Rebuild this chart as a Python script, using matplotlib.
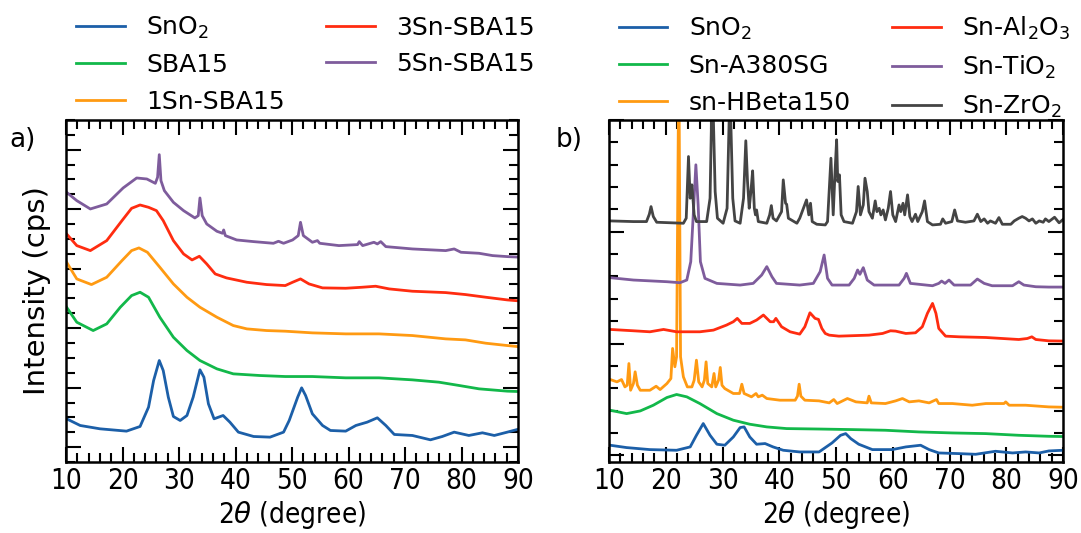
import matplotlib
matplotlib.use('Agg')
import matplotlib.pyplot as plt
from matplotlib.ticker import MultipleLocator

plt.rcParams['font.family'] = 'DejaVu Sans'
plt.rcParams['font.size'] = 17
plt.rcParams['mathtext.fontset'] = 'dejavusans'

# ---- panel a: Sn on SBA15 (2theta in degree, intensity offset in cps) ----
a_sno2_x = [10.1, 12.5, 16, 20.7, 23.1, 24.6, 25.5, 26.5, 27.2, 28.1, 29, 30.2, 31.4, 32.5,
            33.7, 34.4, 35.2, 36.2, 37.8, 39, 40.5, 43.2, 46.1, 48.5, 49.5, 51, 51.7, 52.4,
            53.6, 55.4, 56.8, 59.5, 61.3, 63.3, 65.1, 66.6, 68.1, 71.3, 74.5, 76.6, 78.7,
            81.3, 83.7, 85.8, 88.1, 90]
a_sno2_y = [476, 364, 308, 269, 347, 672, 1120, 1456, 1288, 840, 515, 448, 532, 840,
            1300, 1176, 728, 476, 532, 420, 252, 179, 168, 252, 448, 840, 997, 868,
            560, 364, 280, 269, 364, 420, 493, 364, 213, 196, 123, 179, 252,
            196, 241, 196, 252, 300]

a_sba_x = [10.1, 11.9, 14.8, 17.2, 19.6, 21.6, 23.1, 24.6, 26.6, 29, 31.4, 33.7, 36.7, 39.6,
           44.3, 48.8, 53.6, 59.5, 65.4, 71.3, 76, 79.6, 83.1, 88.1, 90]
a_sba_y = [2352, 2100, 1960, 2072, 2352, 2548, 2604, 2520, 2184, 1848, 1624, 1456, 1316, 1232,
           1204, 1187, 1187, 1165, 1165, 1131, 1092, 1036, 980, 941, 935]

a_1sn_x = [10.1, 11.9, 14.5, 17.2, 19.9, 21.6, 22.9, 24.4, 26.6, 29, 31.4, 33.7, 36.7, 39.6,
           42, 45.5, 48.8, 53.6, 59.5, 65.4, 71.3, 77.2, 80.7, 84.3, 88.1, 90]
a_1sn_y = [3108, 2828, 2733, 2856, 3136, 3304, 3349, 3276, 3024, 2744, 2520, 2352, 2184, 2044,
           1988, 1960, 1949, 1921, 1904, 1904, 1876, 1820, 1803, 1747, 1708, 1690]

a_3sn_x = [10.1, 11.9, 14.3, 17.2, 19.9, 21.6, 23.1, 24.6, 26, 27.2, 29, 30.8, 32.3, 33.6,
           34.9, 36.4, 38.4, 42, 45.5, 48.8, 50.1, 51.5, 53, 55.4, 59.5, 62.4, 64.8, 67.2,
           71.3, 77.2, 80.7, 84.3, 88.1, 90]
a_3sn_y = [3584, 3388, 3304, 3472, 3808, 4015, 4071, 4032, 3976, 3808, 3472, 3248, 3147, 3209,
           3080, 2912, 2845, 2772, 2733, 2716, 2772, 2828, 2744, 2677, 2671, 2688, 2705, 2660,
           2621, 2598, 2565, 2520, 2475, 2460]

a_5sn_x = [10.1, 11.9, 14.3, 17.2, 20.1, 22.5, 24.3, 25.8, 26.2, 26.5, 26.8, 27.4, 29, 30.8,
           32.8, 33.4, 33.7, 34.1, 34.9, 36.7, 37.7, 37.9, 38.2, 40.2, 43.2, 46.7, 47.6, 48.5,
           50.1, 51.1, 51.5, 52, 53.6, 54.5, 54.9, 58.3, 61.6, 61.9, 62.5, 64.5, 65.1, 65.7,
           66.6, 71.3, 77.2, 78.7, 79.9, 83.1, 85.5, 88.1, 90]
a_5sn_y = [4284, 4144, 4004, 4088, 4357, 4525, 4508, 4435, 4536, 4917, 4480, 4312, 4116, 3976,
           3853, 3892, 4189, 3892, 3752, 3629, 3595, 3651, 3556, 3483, 3455, 3427, 3461, 3427,
           3483, 3556, 3780, 3556, 3444, 3472, 3427, 3388, 3405, 3455, 3388, 3444, 3416, 3455,
           3371, 3332, 3304, 3332, 3276, 3259, 3220, 3203, 3195]

# ---- panel b: Sn on different supports ----
b_sno2_x = [10.2, 13.1, 17.2, 21.9, 24.3, 25.4, 26.6, 27.8, 29, 30.4, 31.9, 33.1, 33.8, 34.8,
            36, 37.5, 38.9, 40.7, 43.6, 47, 49.3, 50.8, 51.7, 52.6, 54, 56.4, 59.9, 62.3,
            64.9, 66.4, 68.1, 71.7, 74.6, 78.1, 81.1, 83.4, 85.8, 87.5, 90]
b_sno2_y = [90, 69, 51, 45, 75, 179, 284, 179, 99, 90, 164, 248, 254, 164,
            99, 105, 75, 45, 30, 30, 111, 179, 194, 149, 99, 51, 51, 75,
            90, 51, 21, 15, 9, 36, 21, 30, 21, 39, 45]

b_a380_x = [10.2, 13.1, 15.5, 17.8, 20.2, 21.9, 23.7, 26, 29, 31.9, 34.8, 37.8, 41.3, 47,
            52.9, 58.7, 64.6, 70.5, 76.4, 82.2, 87.5, 90]
b_a380_y = [403, 373, 397, 448, 517, 544, 523, 463, 373, 314, 278, 254, 239, 235,
            230, 224, 209, 200, 194, 179, 170, 168]

b_beta_x = [10.2, 11.4, 12.2, 12.8, 13.2, 13.5, 13.8, 14.3, 14.6, 15, 15.5, 17.2, 18.3, 19,
            20.2, 20.9, 21.2, 21.6, 21.9, 22.3, 22.6, 23.1, 23.8, 24.6, 25, 25.4, 25.8, 26.4,
            26.8, 27.1, 27.4, 28.1, 28.5, 28.8, 29.3, 29.6, 29.9, 30.4, 31.9, 33, 33.4, 33.8,
            35.1, 35.9, 36.3, 37, 37.8, 40.1, 42.8, 43.2, 43.5, 43.8, 44.5, 47, 48.8, 49.6,
            50.2, 52, 53.5, 55.5, 55.8, 56.2, 58.7, 60.5, 61.7, 62.9, 64.6, 66.4, 67.7, 68.1,
            70.5, 74, 76.4, 79.6, 79.9, 80.5, 83.4, 87.5, 90]
b_beta_y = [678, 657, 678, 612, 627, 821, 582, 642, 747, 627, 582, 582, 618, 588,
            642, 687, 956, 792, 881, 3600, 881, 702, 612, 612, 672, 851, 657, 612,
            672, 836, 642, 612, 732, 612, 672, 786, 627, 597, 553, 553, 636, 553,
            523, 553, 523, 538, 508, 493, 493, 529, 636, 529, 493, 487, 469, 499,
            463, 508, 478, 469, 529, 469, 463, 487, 508, 478, 487, 469, 499, 463,
            463, 448, 463, 463, 478, 448, 448, 433, 430]

b_al2o3_x = [10.2, 14.3, 17.2, 19.6, 21.9, 26, 28.4, 30.7, 31.9, 32.6, 33.4, 34.8, 36, 37.2,
             38.4, 39, 39.4, 40.4, 41.9, 43.6, 44.5, 45.4, 46.3, 46.9, 47.5, 48.1, 48.8,
             50.5, 55.8, 58.2, 59.6, 60.5, 62.3, 64, 65.2, 66.1, 67, 67.6, 68.1, 69.3, 71.7,
             76.4, 82.2, 83.7, 84.5, 85.2, 87.5, 90]
b_al2o3_y = [1126, 1114, 1105, 1126, 1105, 1105, 1120, 1165, 1195, 1225, 1180, 1180, 1210, 1255,
             1195, 1195, 1225, 1150, 1105, 1084, 1150, 1275, 1225, 1216, 1135, 1090, 1075,
             1066, 1075, 1090, 1114, 1111, 1090, 1096, 1150, 1270, 1359, 1270, 1135, 1066, 1060,
             1054, 1036, 1045, 1060, 1036, 1024, 1022]

b_tio2_x = [10.2, 14.3, 20.2, 22.5, 23.7, 24.4, 24.9, 25.3, 25.7, 26.1, 26.9, 29, 33.1, 35.4,
            36.9, 37.8, 38.7, 39.5, 43.6, 46, 47.2, 47.9, 48.5, 49.3, 52.3, 53.2, 53.8, 54.2,
            54.8, 55.5, 56.7, 61.1, 62, 62.4, 63.1, 67, 68.1, 68.6, 69.2, 69.9, 70.8, 73.7,
            74.9, 76.1, 77.5, 81.1, 82.2, 83.1, 85.2, 87.5, 90]
b_tio2_y = [1589, 1568, 1553, 1544, 1568, 1732, 2210, 2599, 2240, 1732, 1583, 1538, 1523, 1538,
            1613, 1688, 1598, 1538, 1523, 1538, 1643, 1792, 1583, 1523, 1523, 1583, 1658, 1619,
            1679, 1568, 1523, 1523, 1583, 1628, 1538, 1517, 1538, 1559, 1538, 1568, 1523, 1523,
            1577, 1538, 1517, 1517, 1553, 1523, 1508, 1505, 1505]

b_zro2_x = [10.2, 14.3, 16.6, 17.1, 17.4, 17.8, 18.4, 23.1, 23.6, 24, 24.3, 24.6, 25, 25.4,
            27.2, 27.8, 28.2, 28.7, 29.1, 30.1, 30.8, 31.3, 31.8, 32.2, 33.1, 33.7, 34.1, 34.4,
            34.7, 35, 35.3, 35.6, 35.8, 36, 36.3, 37.8, 38.3, 38.6, 38.9, 39.5, 40.4, 40.7,
            41.1, 41.3, 41.6, 43.1, 43.6, 44.8, 45.2, 45.5, 45.8, 46.6, 48.1, 48.5, 49.1,
            49.5, 49.8, 50.1, 50.3, 50.6, 50.9, 51.4, 52.9, 53.6, 53.9, 54.3, 54.8, 55.1,
            55.5, 55.8, 56.4, 56.9, 57.2, 57.6, 57.9, 58.3, 58.7, 59.2, 59.6, 60, 60.5, 61.1,
            61.4, 61.8, 62.1, 62.6, 63, 63.4, 64, 64.4, 65.2, 65.6, 66.1, 67, 68.4, 68.8,
            69.3, 70.4, 70.9, 71.4, 72.8, 74.3, 74.9, 75.5, 76.1, 76.7, 77.2, 78.1, 78.7,
            79.3, 80.8, 81.4, 82.2, 82.8, 83.4, 84, 84.6, 85.2, 85.8, 86.5, 86.9, 87.5, 88.5,
            89.3, 90]
b_zro2_y = [2097, 2091, 2091, 2157, 2225, 2136, 2085, 2076, 2121, 2673, 2300, 2420, 2151, 2091,
            2091, 2300, 3400, 2360, 2121, 2076, 2210, 3300, 2300, 2097, 2076, 2300, 2814, 2450,
            2210, 2360, 2545, 2210, 2151, 2195, 2091, 2076, 2151, 2234, 2121, 2097, 2180, 2464,
            2255, 2246, 2121, 2076, 2121, 2285, 2151, 2255, 2091, 2067, 2061, 2091, 2658,
            2151, 2509, 2823, 2450, 2509, 2151, 2091, 2076, 2180, 2405, 2151, 2240, 2479,
            2360, 2180, 2121, 2276, 2180, 2210, 2151, 2195, 2106, 2210, 2360, 2151, 2091, 2240,
            2180, 2255, 2151, 2330, 2136, 2091, 2157, 2091, 2180, 2276, 2091, 2061, 2067, 2115,
            2076, 2091, 2195, 2097, 2085, 2097, 2157, 2091, 2115, 2076, 2097, 2076, 2127,
            2067, 2067, 2097, 2121, 2136, 2121, 2097, 2115, 2076, 2097, 2085, 2115, 2091, 2130,
            2080, 2110]

c_blue = '#1c5fa8'
c_green = '#12b84a'
c_orange = '#ff9a12'
c_red = '#ff2c10'
c_purple = '#7e5c9c'
c_gray = '#444444'

fig = plt.figure(figsize=(10.81, 5.33), dpi=100)
ax_a = fig.add_axes([0.0611, 0.1332, 0.4181, 0.6417])
ax_b = fig.add_axes([0.5634, 0.1332, 0.4200, 0.6417])

lw = 2.0
la = []
la += ax_a.plot(a_sno2_x, a_sno2_y, color=c_blue, lw=lw, label='SnO$_2$')
la += ax_a.plot(a_sba_x, a_sba_y, color=c_green, lw=lw, label='SBA15')
la += ax_a.plot(a_1sn_x, a_1sn_y, color=c_orange, lw=lw, label='1Sn-SBA15')
la += ax_a.plot(a_3sn_x, a_3sn_y, color=c_red, lw=lw, label='3Sn-SBA15')
la += ax_a.plot(a_5sn_x, a_5sn_y, color=c_purple, lw=lw, label='5Sn-SBA15')

lb = []
lb += ax_b.plot(b_sno2_x, b_sno2_y, color=c_blue, lw=lw, label='SnO$_2$')
lb += ax_b.plot(b_a380_x, b_a380_y, color=c_green, lw=lw, label='Sn-A380SG')
lb += ax_b.plot(b_beta_x, b_beta_y, color=c_orange, lw=lw, label='sn-HBeta150')
lb += ax_b.plot(b_al2o3_x, b_al2o3_y, color=c_red, lw=lw, label='Sn-Al$_2$O$_3$')
lb += ax_b.plot(b_tio2_x, b_tio2_y, color=c_purple, lw=lw, label='Sn-TiO$_2$')
lb += ax_b.plot(b_zro2_x, b_zro2_y, color=c_gray, lw=lw, label='Sn-ZrO$_2$')

ax_a.set_ylim(-250, 5500)
ax_a.yaxis.set_major_locator(MultipleLocator(1000))
ax_a.yaxis.set_minor_locator(MultipleLocator(250))
ax_b.set_ylim(-60, 3000)
ax_b.yaxis.set_major_locator(MultipleLocator(1000))
ax_b.yaxis.set_minor_locator(MultipleLocator(200))

for ax in (ax_a, ax_b):
    ax.set_xlim(10, 90)
    ax.xaxis.set_major_locator(MultipleLocator(10))
    ax.xaxis.set_minor_locator(MultipleLocator(2))
    ax.tick_params(which='both', direction='in', top=True, right=True, width=1.5,
                   labelleft=False, labelsize=20)
    ax.tick_params(which='major', length=11)
    ax.tick_params(which='minor', length=6.5)
    for s in ax.spines.values():
        s.set_linewidth(1.8)
    for t in ax.get_xticklabels():
        t.set_fontstretch('condensed')
    ax.set_xlabel(r'2$\theta$ (degree)', fontsize=20, fontstretch='condensed', labelpad=3)

ax_a.set_ylabel('Intensity (cps)', fontsize=21, labelpad=11)

fig.text(0.009, 0.737, 'a)', fontsize=19, va='center')
fig.text(0.514, 0.737, 'b)', fontsize=19, va='center')

leg_kw = dict(ncol=2, frameon=False, loc='upper left', handlelength=1.95,
              handletextpad=0.85, columnspacing=1.65, labelspacing=0.5, fontsize=18)
fig.legend(handles=la, bbox_to_anchor=(0.0496, 1.015), **leg_kw)
fig.legend(handles=lb, bbox_to_anchor=(0.5514, 1.015), **leg_kw)

fig.savefig('out.png', dpi=100)
